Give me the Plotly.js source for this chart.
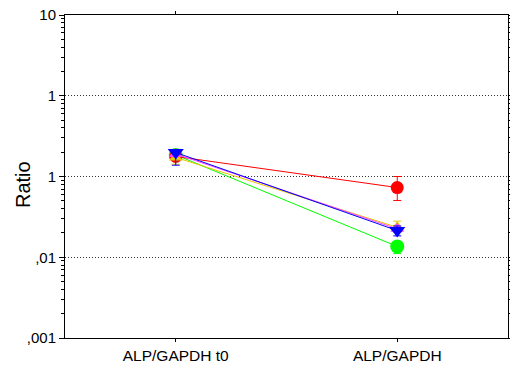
<!DOCTYPE html>
<html><head><meta charset="utf-8">
<script src="https://cdn.plot.ly/plotly-3.0.1.min.js"></script>
<style>body{margin:0}#c{width:510px;height:370px}</style>
</head><body><div id="c"></div>
<script>
const categories = ["ALP/GAPDH t0", "ALP/GAPDH"];
const greenVals = [0.185, 0.0136];
const greenErrPlus = [0.01, 0.002];
const greenErrMinus = [0.01, 0.0025];
const redVals = [0.177, 0.073];
const redErrPlus = [0.01, 0.027];
const redErrMinus = [0.01, 0.0225];
const yellowVals = [0.172, 0.0235];
const yellowErrPlus = [0.02, 0.0045];
const yellowErrMinus = [0.03, 0.003];
const magentaVals = [0.19, 0.0225];
const blueVals = [0.198, 0.0214];
const blueErrPlus = [0.01, 0.003];
const blueErrMinus = [0.06, 0.003];
const yTickVals = [10, 1, 0.1, 0.01, 0.001];
const yTickText = ["10", "1", "1", ",01", ",001"];
const yTitle = "Ratio";

function tr(vals, color, symbol, size, ep, em) {
  const t = {
    x: categories, y: vals, type: 'scatter', mode: 'lines+markers',
    line: {color: color, width: 1},
    marker: {color: color, symbol: symbol, size: size},
    hoverinfo: 'skip', showlegend: false
  };
  if (ep) t.error_y = {type: 'data', symmetric: false, array: ep, arrayminus: em, color: color, thickness: 1, width: 4};
  return t;
}
const data = [
  tr(greenVals, '#00ff00', 'circle', 14, greenErrPlus, greenErrMinus),
  tr(redVals, '#ff0000', 'circle', 13, redErrPlus, redErrMinus),
  tr(yellowVals, '#e6c800', 'triangle-up', 12, yellowErrPlus, yellowErrMinus),
  tr(magentaVals, '#ff44ff', 'triangle-up', 12, null, null),
  tr(blueVals, '#0000ff', 'triangle-down', 14, blueErrPlus, blueErrMinus)
];
const layout = {
  width: 510, height: 370,
  margin: {l: 65, r: 2, t: 15, b: 32},
  paper_bgcolor: '#fff', plot_bgcolor: '#fff',
  font: {family: 'Liberation Sans, Arial, sans-serif', size: 12, color: '#000'},
  xaxis: {
    type: 'category', range: [-0.5, 1.5],
    showline: true, linecolor: '#000', linewidth: 1, mirror: 'ticks',
    ticks: 'outside', ticklen: 3, tickcolor: '#000',
    showgrid: false, zeroline: false,
    tickfont: {size: 15.5}
  },
  yaxis: {
    type: 'log', range: [-3, 1],
    tickvals: yTickVals, ticktext: yTickText,
    showline: true, linecolor: '#000', linewidth: 1, mirror: 'ticks',
    ticks: 'outside', ticklen: 5, tickcolor: '#000',
    showgrid: true, gridcolor: '#333', griddash: '1px,2px', gridwidth: 1,
    zeroline: false,
    minor: {ticks: 'outside', ticklen: 3, tickcolor: '#000', showgrid: false, dtick: 'D1', tickmode: 'linear'},
    tickfont: {size: 15}
  },
  annotations: [{
    text: yTitle, textangle: -90, showarrow: false,
    xref: 'paper', yref: 'paper', x: (23 - 65) / 443, y: (338 - 185) / 323,
    xanchor: 'center', yanchor: 'middle', font: {size: 20}
  }]
};
Plotly.newPlot('c', data, layout, {staticPlot: true, displayModeBar: false});
</script></body></html>
